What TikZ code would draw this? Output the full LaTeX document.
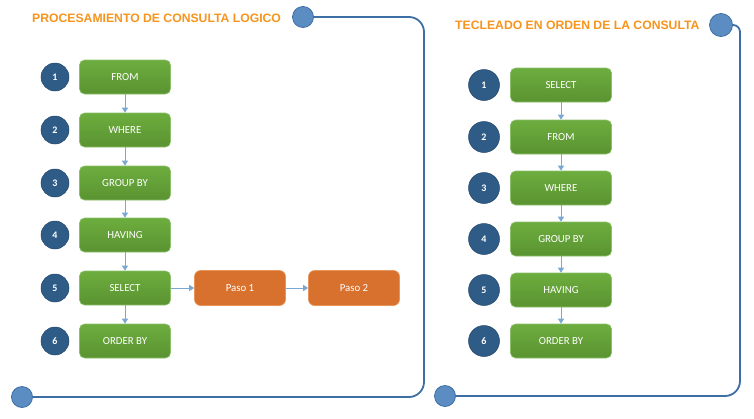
\documentclass[tikz,border=0pt]{standalone}
\usepackage{fontspec}
\setmainfont{Carlito}
\newfontfamily\titlefont{Liberation Sans}
\usetikzlibrary{arrows.meta}
\definecolor{gtop}{HTML}{6DAD3E}
\definecolor{gbot}{HTML}{5A9331}
\definecolor{gborder}{HTML}{8CC06A}
\definecolor{orng}{HTML}{D9712E}
\definecolor{orngb}{HTML}{E8945A}
\definecolor{numblue}{HTML}{2F5B87}
\definecolor{framec}{HTML}{3D6FA5}
\definecolor{dotc}{HTML}{5B8CC2}
\definecolor{arrowc}{HTML}{7BA7D3}
\definecolor{titlec}{HTML}{F7941D}
\begin{document}
\begin{tikzpicture}[x=1pt,y=-1pt,
  greenbox/.style={draw=gborder, line width=0.6pt, top color=gtop, bottom color=gbot, rounded corners=5pt, minimum height=34pt, text=white, font=\fontsize{10.8}{12}\selectfont, inner sep=0pt},
  lbox/.style={greenbox, minimum width=91pt},
  rbox/.style={greenbox, minimum width=101pt},
  obox/.style={draw=orngb, line width=0.6pt, fill=orng, rounded corners=6pt, minimum width=91pt, minimum height=35pt, text=white, font=\fontsize{10.8}{12}\selectfont, inner sep=0pt},
  num/.style={circle, fill=numblue, draw=numblue!80!black, line width=0.5pt, text=white, font=\bfseries\fontsize{10}{11}\selectfont, inner sep=0pt},
  lnum/.style={num, minimum size=28pt},
  rnum/.style={num, minimum size=31pt},
  dot/.style={circle, fill=dotc, draw=framec, line width=0.8pt, inner sep=0pt},
  frame/.style={draw=framec, line width=1.8pt},
  arr/.style={draw=arrowc, line width=0.9pt, -{Triangle[length=5pt,width=6pt]}},
  ttl/.style={text=titlec, font=\titlefont\bfseries\fontsize{12.2}{14}\selectfont, inner sep=0pt}
]
\useasboundingbox (0,0) rectangle (754,418);

% ---------- left panel ----------
\node[ttl, anchor=west] (t1) at (32,18) {PROCESAMIENTO DE CONSULTA LOGICO};
\node[dot, minimum size=21pt] (d1) at (303,17) {};
\node[dot, minimum size=21pt] (d2) at (22,397) {};
\draw[frame, rounded corners=15pt] (d1.east) -- (424,17) -- (424,397) -- (d2.east);

\foreach \i/\y/\t in {1/77/FROM, 2/130/WHERE, 3/183/GROUP BY, 4/235/HAVING, 5/288/SELECT, 6/341/ORDER BY}{
  \node[lbox] (L\i) at (125,\y) {\t};
  \node[lnum] (LN\i) at (55,\y) {\i};
}
\foreach \a/\b in {1/2,2/3,3/4,4/5,5/6}{
  \draw[arr] (L\a.south) -- (L\b.north);
}
\node[obox] (P1) at (240,288) {Paso 1};
\node[obox] (P2) at (354,288) {Paso 2};
\draw[arr] (L5.east) -- (P1.west);
\draw[arr] (P1.east) -- (P2.west);

% ---------- right panel ----------
\node[ttl, anchor=west] (t2) at (455,25) {TECLEADO EN ORDEN DE LA CONSULTA};
\node[dot, minimum size=23pt] (d3) at (721,25) {};
\node[dot, minimum size=21pt] (d4) at (445,396) {};
\draw[frame] (d3.east) [rounded corners=7pt] -- (740,25) [rounded corners=15pt] -- (740,396) -- (d4.east);

\foreach \i/\y/\t in {1/85/SELECT, 2/137/FROM, 3/188/WHERE, 4/239/GROUP BY, 5/290/HAVING, 6/341/ORDER BY}{
  \node[rbox] (R\i) at (561,\y) {\t};
  \node[rnum] (RN\i) at (484,\y) {\i};
}
\foreach \a/\b in {1/2,2/3,3/4,4/5,5/6}{
  \draw[arr] (R\a.south) -- (R\b.north);
}
\end{tikzpicture}
\end{document}
